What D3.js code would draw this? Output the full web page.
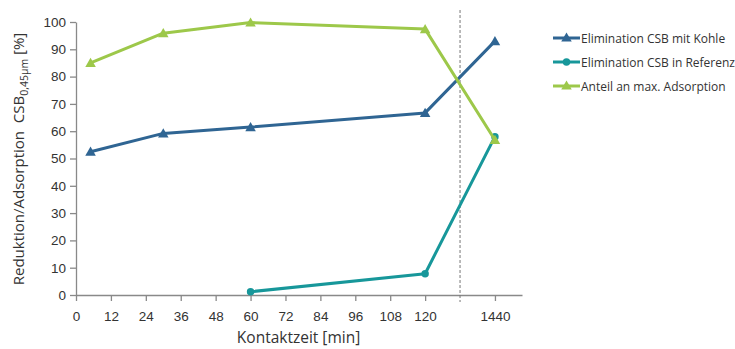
<!DOCTYPE html>
<html>
<head>
<meta charset="utf-8">
<script src="https://cdn.jsdelivr.net/npm/d3@7"></script>
<style>
  body { margin: 0; background: #fff; }
  svg { font-family: "Open Sans", sans-serif; }
</style>
</head>
<body>
<div id="chart"></div>
<script>
// time values (min) and their position on the broken axis (1440 sits after the break)
const times     = [5, 30, 60, 120, 1440];
const axisPos   = [5, 30, 60, 120, 144];
const tickPos   = [0, 12, 24, 36, 48, 60, 72, 84, 96, 108, 120, 144];
const tickLabel = ['0', '12', '24', '36', '48', '60', '72', '84', '96', '108', '120', '1440'];
const breakPos  = 132;

const kohle    = [52.5, 59.2, 61.5, 66.7, 93];
const referenz = [null, null, 1.2, 7.8, 58];
const anteil   = [85, 95.9, 99.8, 97.4, 56.8];

const yTicks = [0, 10, 20, 30, 40, 50, 60, 70, 80, 90, 100];

const SERIES = [
    { name: 'Elimination CSB mit Kohle',    values: kohle,    color: '#2f6593', marker: 'tri' },
    { name: 'Elimination CSB in Referenz',  values: referenz, color: '#17979a', marker: 'dot' },
    { name: 'Anteil an max. Adsorption',    values: anteil,   color: '#9dc84a', marker: 'tri' }
];

const W = 735, H = 349;
const MARGIN = { top: 22, right: 213, bottom: 54, left: 76 };
const w = W - MARGIN.left - MARGIN.right;
const h = H - MARGIN.top - MARGIN.bottom;
const AXIS = '#898989';
const TEXT = '#333';

const svg = d3.select('#chart').append('svg').attr('width', W).attr('height', H);
const g = svg.append('g').attr('transform', `translate(${MARGIN.left},${MARGIN.top})`);

const x = d3.scaleLinear().domain([0, 153.3]).range([0, w]);
const y = d3.scaleLinear().domain([0, 100]).range([h, 0]);

// axes
const xAxis = g.append('g').attr('transform', `translate(0,${h})`)
    .call(d3.axisBottom(x).tickValues(tickPos).tickSize(6).tickSizeOuter(0)
        .tickFormat((d, i) => tickLabel[i]));
const yAxis = g.append('g')
    .call(d3.axisLeft(y).tickValues(yTicks).tickSize(6).tickSizeOuter(0));

[xAxis, yAxis].forEach(a => {
    a.select('.domain').attr('stroke', AXIS).attr('stroke-width', 1.3);
    a.selectAll('.tick line').attr('stroke', AXIS).attr('stroke-width', 1.3);
    a.selectAll('.tick text').attr('fill', TEXT).style('font-size', '13.5px');
});
xAxis.selectAll('.tick text').attr('dy', '1.25em');
yAxis.selectAll('.tick text').attr('x', -10);

// break line
g.append('line')
    .attr('x1', x(breakPos)).attr('x2', x(breakPos))
    .attr('y1', -12).attr('y2', h + 7)
    .attr('stroke', '#777').attr('stroke-width', 1).attr('stroke-dasharray', '3,2');

// titles
g.append('text').attr('x', x(60) + 48).attr('y', h + 48)
    .attr('text-anchor', 'middle').attr('fill', TEXT).style('font-size', '15.5px')
    .text('Kontaktzeit [min]');

const yt = svg.append('text')
    .attr('transform', `translate(24,159) rotate(-90)`)
    .attr('text-anchor', 'middle').attr('fill', TEXT).style('font-size', '15px');
yt.append('tspan').text('Reduktion/Adsorption\u00a0\u00a0CSB');
yt.append('tspan').attr('dy', 4).style('font-size', '10.5px').text('0,45µm');
yt.append('tspan').attr('dy', -4).text('\u00a0[%]');

// series
const tri = d3.symbol().type(d3.symbolTriangle).size(48);
const dot = d3.symbol().type(d3.symbolCircle).size(44);

SERIES.forEach(s => {
    const pts = s.values.map((v, i) => ({ x: axisPos[i], v })).filter(d => d.v !== null);
    g.append('path').datum(pts)
        .attr('fill', 'none').attr('stroke', s.color).attr('stroke-width', 3)
        .attr('stroke-linejoin', 'round')
        .attr('d', d3.line().x(d => x(d.x)).y(d => y(d.v)));
    g.selectAll(null).data(pts).enter().append('path')
        .attr('transform', d => `translate(${x(d.x)},${y(d.v) + (s.marker === 'tri' ? 1 : 0)})`)
        .attr('d', s.marker === 'tri' ? tri : dot)
        .attr('fill', s.color);
});

// legend
const legend = svg.append('g').attr('transform', 'translate(553,38)');
SERIES.forEach((s, i) => {
    const lg = legend.append('g').attr('transform', `translate(0,${i * 24})`);
    lg.append('line').attr('x1', 0).attr('x2', 27).attr('stroke', s.color).attr('stroke-width', 3);
    lg.append('path').attr('transform', `translate(13.5,${s.marker === 'tri' ? 0.5 : 0})`)
        .attr('d', s.marker === 'tri' ? tri : dot).attr('fill', s.color);
    lg.append('text').attr('x', 28).attr('y', 4.5).attr('fill', TEXT)
        .style('font-size', '12px').text(s.name);
});
</script>
</body>
</html>
